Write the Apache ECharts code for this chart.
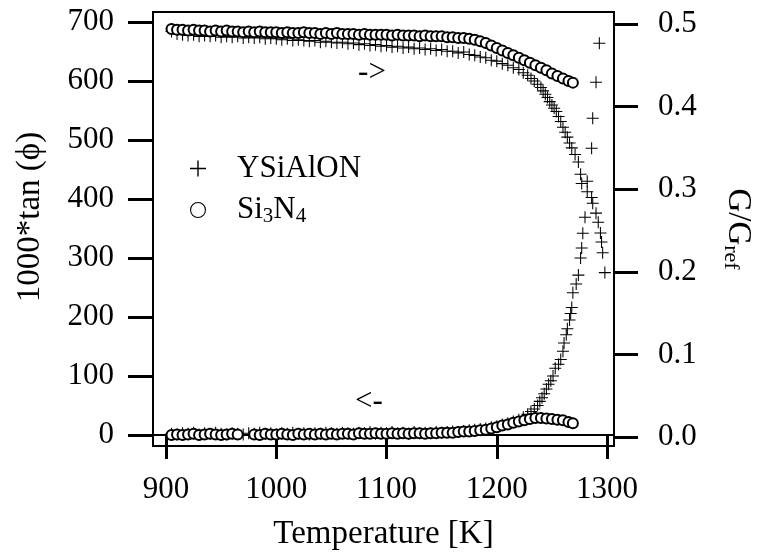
<!DOCTYPE html>
<html><head><meta charset="utf-8">
<script src="https://cdn.jsdelivr.net/npm/echarts@6/dist/echarts.min.js"></script>
<style>html,body{margin:0;padding:0;background:#fff}#c{width:762px;height:558px}</style>
</head><body><div id="c"></div><script>
const xTicks = [900, 1000, 1100, 1200, 1300];
const leftTicks = [0, 100, 200, 300, 400, 500, 600, 700];
const rightTicks = [0, 0.1, 0.2, 0.3, 0.4, 0.5];

// G/G_ref (right axis)
const ysialonModulus = [[905,0.491],[910,0.488],[915,0.487],[920,0.486],[925,0.487],[930,0.485],[935,0.486],[940,0.485],[945,0.486],[950,0.484],[955,0.485],[960,0.484],[965,0.485],[970,0.483],[975,0.484],[980,0.483],[985,0.484],[990,0.482],[995,0.483],[1000,0.482],[1005,0.481],[1010,0.482],[1015,0.480],[1020,0.481],[1025,0.480],[1030,0.479],[1035,0.480],[1040,0.478],[1045,0.479],[1050,0.478],[1055,0.477],[1060,0.478],[1065,0.476],[1070,0.477],[1075,0.475],[1080,0.476],[1085,0.474],[1090,0.475],[1095,0.473],[1100,0.474],[1105,0.472],[1110,0.473],[1115,0.471],[1120,0.472],[1125,0.470],[1130,0.471],[1135,0.469],[1140,0.470],[1145,0.468],[1150,0.469],[1155,0.467],[1160,0.467],[1165,0.465],[1170,0.466],[1175,0.463],[1180,0.462],[1185,0.460],[1190,0.459],[1195,0.456],[1200,0.455],[1205,0.452],[1210,0.450],[1215,0.447],[1220,0.445],[1224,0.441],[1228,0.438],[1231,0.434],[1234,0.431],[1237,0.427],[1240,0.423],[1242,0.419],[1244,0.415],[1246,0.411],[1248,0.406],[1250,0.402],[1252,0.398],[1254,0.394],[1256,0.388],[1258,0.382],[1260,0.375],[1262,0.369],[1264,0.363],[1266,0.356],[1268,0.350],[1271,0.342],[1274,0.333],[1276,0.318],[1277,0.307],[1282,0.297],[1286,0.290],[1287,0.283],[1290,0.271],[1292,0.260],[1294,0.247],[1295,0.236],[1296,0.223],[1298,0.199]];
const si3n4Modulus = [[905,0.494],[910,0.493],[915,0.493],[920,0.492],[925,0.493],[930,0.492],[935,0.492],[940,0.491],[945,0.492],[950,0.491],[955,0.492],[960,0.491],[965,0.491],[970,0.490],[975,0.491],[980,0.490],[985,0.491],[990,0.490],[995,0.490],[1000,0.490],[1005,0.489],[1010,0.490],[1015,0.489],[1020,0.489],[1025,0.490],[1030,0.489],[1035,0.489],[1040,0.488],[1045,0.489],[1050,0.488],[1055,0.489],[1060,0.488],[1065,0.488],[1070,0.488],[1075,0.487],[1080,0.488],[1085,0.487],[1090,0.487],[1095,0.487],[1100,0.487],[1105,0.486],[1110,0.487],[1115,0.486],[1120,0.486],[1125,0.486],[1130,0.485],[1135,0.486],[1140,0.485],[1145,0.485],[1150,0.485],[1155,0.484],[1160,0.484],[1165,0.483],[1170,0.483],[1175,0.482],[1180,0.481],[1185,0.479],[1190,0.477],[1195,0.474],[1200,0.471],[1205,0.468],[1210,0.465],[1215,0.462],[1220,0.459],[1225,0.456],[1230,0.453],[1235,0.450],[1240,0.447],[1245,0.444],[1250,0.440],[1255,0.437],[1260,0.434],[1265,0.431],[1269,0.429]];

// 1000*tan(phi) (left axis)
const ysialonLoss = [[905,2],[910,1],[915,3],[920,2],[925,4],[930,1],[935,3],[940,2],[945,4],[950,2],[955,1],[960,3],[965,2],[970,1],[975,3],[980,2],[985,4],[990,2],[995,3],[1000,1],[1005,3],[1010,2],[1015,4],[1020,2],[1025,3],[1030,1],[1035,3],[1040,2],[1045,4],[1050,3],[1055,2],[1060,4],[1065,3],[1070,2],[1075,4],[1080,3],[1085,5],[1090,2],[1095,4],[1100,3],[1105,5],[1110,3],[1115,4],[1120,2],[1125,5],[1130,3],[1135,4],[1140,3],[1145,5],[1150,4],[1155,5],[1160,6],[1165,5],[1170,7],[1175,8],[1180,9],[1185,10],[1190,11],[1195,13],[1200,15],[1205,18],[1210,20],[1215,23],[1220,26],[1224,30],[1228,35],[1231,40],[1234,44],[1237,50],[1239,57],[1241,63],[1243,70],[1245,78],[1247,86],[1249,92],[1251,100],[1253,113],[1256,120],[1258,128],[1260,142],[1261,156],[1263,170],[1264,180],[1266,195],[1267,206],[1268,216],[1269,241],[1272,256],[1274,271],[1276,300],[1277,317],[1278,342],[1280,369],[1282,430],[1286,486],[1287,537],[1290,598],[1293,664]];
const si3n4Loss = [[905,0],[910,1],[915,0],[920,1],[925,2],[930,0],[935,1],[940,2],[945,1],[950,0],[955,1],[960,2],[965,1],[980,1],[985,0],[990,2],[995,1],[1000,1],[1005,2],[1010,1],[1015,0],[1020,2],[1025,1],[1030,2],[1035,1],[1040,2],[1045,1],[1050,2],[1055,1],[1060,2],[1065,2],[1070,1],[1075,3],[1080,2],[1085,2],[1090,3],[1095,2],[1100,2],[1105,3],[1110,2],[1115,3],[1120,2],[1125,3],[1130,3],[1135,2],[1140,3],[1145,3],[1150,4],[1155,4],[1160,4],[1165,5],[1170,6],[1175,6],[1180,7],[1185,8],[1190,9],[1195,11],[1200,13],[1205,16],[1210,18],[1215,21],[1220,23],[1225,25],[1230,27],[1235,29],[1240,29],[1245,28],[1250,27],[1255,26],[1260,25],[1265,22],[1269,20]];

const FONT = 'Liberation Serif';
const FS = 31;
const NFS = 33;
const plusPath = 'path://M0,7.3H16V8.7H0Z M7.3,0H8.7V16H7.3Z';
const ringPath = 'path://M8,0A8,8 0 1 1 8,16A8,8 0 1 1 8,0Z M8,1.1A6.9,6.9 0 1 0 8,14.9A6.9,6.9 0 1 0 8,1.1Z';

const chart = echarts.init(document.getElementById('c'), null, {renderer: 'canvas'});
const txt = {color: '#000', fontFamily: FONT, fontSize: FS};
const ntxt = {color: '#000', fontFamily: FONT, fontSize: NFS};

function crossSeries(name, data, yIdx) {
  return {name, type: 'scatter', data, yAxisIndex: yIdx, symbol: plusPath, symbolSize: 12,
    itemStyle: {color: '#000', opacity: 1}, emphasis: {disabled: true}, z: 2};
}
function circleSeries(name, data, yIdx) {
  return {name, type: 'scatter', data, yAxisIndex: yIdx, symbol: 'emptyCircle', symbolSize: 10,
    itemStyle: {color: '#000', borderColor: '#000', borderWidth: 1.5, opacity: 1}, emphasis: {disabled: true}, z: 3};
}

chart.setOption({
  animation: false,
  backgroundColor: '#fff',
  grid: {left: 153, right: 148, top: 12, bottom: 112, show: true, borderColor: '#000', borderWidth: 2,
    backgroundColor: 'transparent', outerBoundsMode: 'none', containLabel: false},
  xAxis: {
    type: 'value', min: 888.2, max: 1306.3,
    axisLine: {lineStyle: {color: '#000', width: 2}},
    axisTick: {show: true, customValues: xTicks, length: 24, lineStyle: {color: '#000', width: 3}},
    axisLabel: {customValues: xTicks, margin: 28, formatter: v => String(v), ...txt},
    splitLine: {show: false},
    name: 'Temperature [K]', nameLocation: 'middle', nameGap: 72,
    nameTextStyle: {...ntxt}
  },
  yAxis: [{
    type: 'value', position: 'left', min: -18.6, max: 716.9,
    axisLine: {show: true, lineStyle: {color: '#000', width: 2}},
    axisTick: {show: true, customValues: leftTicks, length: 25, lineStyle: {color: '#000', width: 3}},
    axisLabel: {customValues: leftTicks, margin: 39, formatter: v => String(v), ...txt},
    splitLine: {show: false},
    name: '1000*tan (ϕ)', nameLocation: 'middle', nameGap: 106, nameRotate: 90,
    nameTextStyle: {...ntxt, padding: [0, 0, 0, 24]}
  }, {
    type: 'value', position: 'right', min: -0.0109, max: 0.5145,
    axisLine: {show: true, lineStyle: {color: '#000', width: 2}},
    axisTick: {show: true, customValues: rightTicks, length: 24, lineStyle: {color: '#000', width: 3}},
    axisLabel: {customValues: rightTicks, margin: 44, formatter: v => v.toFixed(1), ...txt},
    splitLine: {show: false},
    name: '{g|G/G}{s|ref}', nameLocation: 'middle', nameGap: 106, nameRotate: -90,
    nameTextStyle: {...ntxt, rich: {
      g: {fontFamily: FONT, fontSize: NFS, color: '#000', lineHeight: 36},
      s: {fontFamily: FONT, fontSize: 22, color: '#000', lineHeight: 36, verticalAlign: 'bottom', padding: [16, 0, 0, 0]}
    }}
  }],
  legend: {
    orient: 'vertical', left: 185, top: 148, itemWidth: 16, itemHeight: 16, itemGap: 6,
    selectedMode: false,
    itemStyle: {color: '#000', borderWidth: 0},
    data: [{name: 'YSiAlON', icon: plusPath}, {name: 'Si3N4', icon: ringPath}],
    formatter: n => n === 'Si3N4' ? '{a|Si}{s|3}{a|N}{s|4}' : '{a|YSiAlON}',
    textStyle: {...txt, padding: [0, 0, 0, 26], rich: {
      a: {fontFamily: FONT, fontSize: FS, color: '#000', lineHeight: 34},
      s: {fontFamily: FONT, fontSize: 21, color: '#000', lineHeight: 34, verticalAlign: 'bottom', padding: [16, 0, 0, 0]}
    }}
  },
  graphic: [
    {type: 'text', x: 372, y: 73, style: {text: '->', fill: '#000', font: FS + 'px "' + FONT + '"', align: 'center', verticalAlign: 'middle'}},
    {type: 'text', x: 369, y: 402, style: {text: '<-', fill: '#000', font: FS + 'px "' + FONT + '"', align: 'center', verticalAlign: 'middle'}}
  ],
  series: [
    crossSeries('YSiAlON', ysialonLoss, 0),
    crossSeries('YSiAlON', ysialonModulus, 1),
    circleSeries('Si3N4', si3n4Loss, 0),
    circleSeries('Si3N4', si3n4Modulus, 1)
  ]
});
</script></body></html>
